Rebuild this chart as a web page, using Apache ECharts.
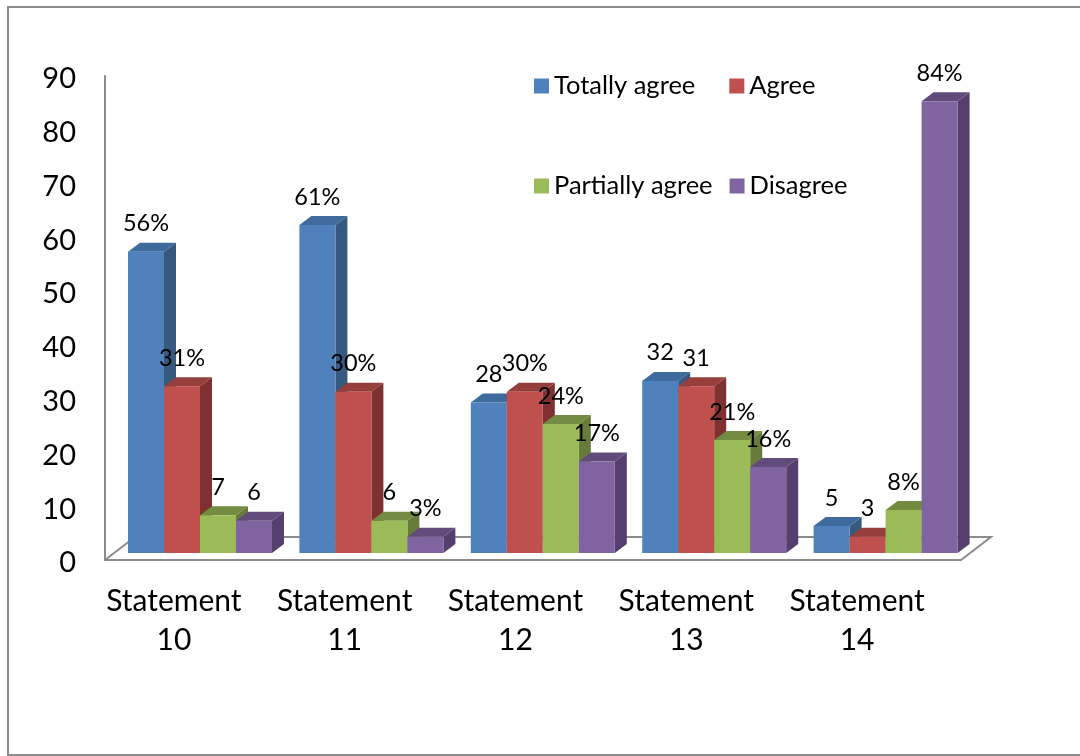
<!DOCTYPE html>
<html><head><meta charset="utf-8">
<style>html,body{margin:0;padding:0;background:#fff}#c{width:1080px;height:756px}</style>
<script src="https://cdn.jsdelivr.net/npm/echarts@6/dist/echarts.min.js"></script>
</head><body><div id="c"></div>
<script>
const categories = ['Statement\n10','Statement\n11','Statement\n12','Statement\n13','Statement\n14'];
const totallyAgree = [56,61,28,32,5];
const agree = [31,30,30,31,3];
const partiallyAgree = [7,6,24,21,8];
const disagree = [6,3,17,16,84];
const totallyAgreeLabels = ['56%','61%','28','32','5'];
const agreeLabels = ['31%','30%','30%','31','3'];
const partiallyAgreeLabels = ['7','6','24%','21%','8%'];
const disagreeLabels = ['6','3%','17%','16%','84%'];
const yTicks = [0,10,20,30,40,50,60,70,80,90];

const FONT = 'Lato, "Open Sans", sans-serif';
const DX = 12, DY = 9;
const BAR_FRAC = 36/171.4;
const axisGrey = '#8c8c8c';

function series3d(name, idx, values, labels, front, top, side){
  return {
    name, type:'custom', xAxisIndex:0, yAxisIndex:0, z:2, clip:false,
    itemStyle:{color:front},
    encode:{x:0,y:1},
    data: values.map((v,i)=>[i,v,labels[i]]),
    renderItem(params, api){
      const c = api.coord([api.value(0),0]);
      const t = api.coord([api.value(0),api.value(1)]);
      const band = api.size([1,0])[0];
      const w = band*BAR_FRAC;
      const x0 = c[0] + (idx-2)*w, x1 = x0+w, y0=c[1], y1=t[1];
      return {type:'group',children:[
        {type:'polygon',shape:{points:[[x1,y0],[x1+DX,y0-DY],[x1+DX,y1-DY],[x1,y1]]},style:{fill:side}},
        {type:'polygon',shape:{points:[[x0,y1],[x1,y1],[x1+DX,y1-DY],[x0+DX,y1-DY]]},style:{fill:top}},
        {type:'rect',shape:{x:x0,y:y1,width:w,height:y0-y1},style:{fill:front}},
        {type:'text',z2:100,style:{text:String(labels[params.dataIndex]),x:(x0+x1)/2,y:y1-28,textAlign:'center',textVerticalAlign:'middle',fontSize:23.5,fontFamily:FONT,fill:'#000'}}
      ]};
    }
  };
}

const chart = echarts.init(document.getElementById('c'),null,{renderer:'canvas'});
chart.setOption({
  animation:false,
  backgroundColor:'#fff',
  grid:[
    {left:114.3,top:69,width:857,height:484},
    {left:105,top:76,width:856,height:484},
    {left:88.5,top:76,width:854,height:484},
    {left:105,top:79,width:856,height:484}
  ],
  xAxis:[
    {gridIndex:0,type:'category',data:categories,show:false},
    {gridIndex:1,type:'category',data:categories,axisTick:{show:false},axisLabel:{show:false},axisLine:{lineStyle:{color:axisGrey,width:2}}},
    {gridIndex:2,type:'category',data:categories,axisTick:{show:false},axisLine:{show:false},
      axisLabel:{interval:0,margin:22,fontSize:30,fontFamily:FONT,color:'#000',lineHeight:39}},
    {gridIndex:3,type:'category',data:categories,show:false}
  ],
  yAxis:[
    {gridIndex:0,type:'value',min:0,max:90,interval:10,show:false},
    {gridIndex:1,type:'value',min:0,max:90,interval:10,splitLine:{show:false},axisTick:{show:false},axisLabel:{show:false},
      axisLine:{show:true,lineStyle:{color:axisGrey,width:2}}},
    {gridIndex:2,type:'value',min:0,max:90,show:false},
    {gridIndex:3,type:'value',min:0,max:90,interval:10,splitLine:{show:false},axisTick:{show:false},axisLine:{show:false},
      axisLabel:{margin:29,fontSize:29,fontFamily:FONT,color:'#000',formatter:v=>yTicks.includes(v)?String(v):''}}
  ],
  legend:[
    {left:529,top:68,orient:'horizontal',itemWidth:15,itemHeight:15,itemGap:34,icon:'rect',data:['Totally agree','Agree'],textStyle:{fontSize:25.5,fontFamily:FONT,color:'#000'}},
    {left:529,top:168,orient:'horizontal',itemWidth:15,itemHeight:15,itemGap:17,icon:'rect',data:['Partially agree','Disagree'],textStyle:{fontSize:25.5,fontFamily:FONT,color:'#000'}}
  ],
  graphic:[
    {type:'rect',z:-1,shape:{x:8,y:7,width:1100,height:748},style:{fill:'none',stroke:axisGrey,lineWidth:2}},
    {type:'polyline',z:0,shape:{points:[[105,560],[135,537],[991,537],[961,560]]},style:{fill:'none',stroke:axisGrey,lineWidth:2}}
  ],
  series:[
    series3d('Totally agree',0,totallyAgree,totallyAgreeLabels,'#4F81BD','#3E6A9C','#35597F'),
    series3d('Agree',1,agree,agreeLabels,'#C0504D','#963E3C','#7F3030'),
    series3d('Partially agree',2,partiallyAgree,partiallyAgreeLabels,'#9BBB59','#738C42','#677C3A'),
    series3d('Disagree',3,disagree,disagreeLabels,'#8064A2','#614B7A','#553F6F')
  ]
});
</script></body></html>
